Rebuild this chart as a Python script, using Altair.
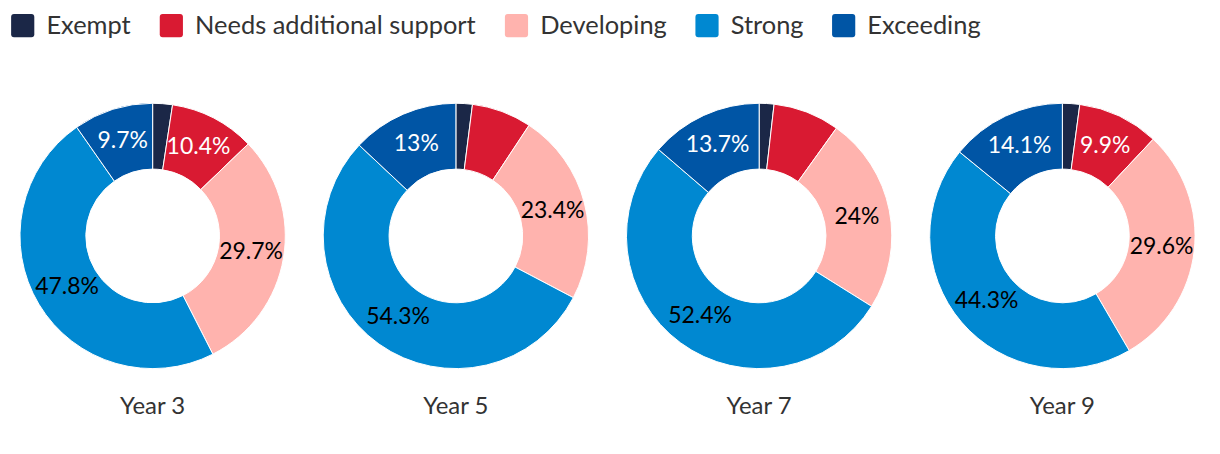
import altair as alt
import pandas as pd

years = ["Year 3", "Year 5", "Year 7", "Year 9"]
categories = ["Exempt", "Needs additional support", "Developing", "Strong", "Exceeding"]
colors = ["#1b2747", "#d91a32", "#ffb3ae", "#0088d1", "#0055a5"]
exempt = [2.4, 2.0, 1.8, 2.1]
needs = [10.4, 7.3, 8.1, 9.9]
developing = [29.7, 23.4, 24.0, 29.6]
strong = [47.8, 54.3, 52.4, 44.3]
exceeding = [9.7, 13.0, 13.7, 14.1]
label_min = 9  # slices under this percent carry no label
white_label_cats = ["Needs additional support", "Exceeding"]

series = [exempt, needs, developing, strong, exceeding]
rows = []
for yi, yr in enumerate(years):
    for ci, (cat, s) in enumerate(zip(categories, series)):
        v = s[yi]
        rows.append({"year": yr, "cat": cat, "order": ci, "value": v,
                     "label": f"{v:g}%" if v >= label_min else ""})
df = pd.DataFrame(rows)

FONT = "Lato"
rounded_square = ("M-0.75,-1 L0.75,-1 Q1,-1 1,-0.75 L1,0.75 Q1,1 0.75,1 "
                  "L-0.75,1 Q-1,1 -1,0.75 L-1,-0.75 Q-1,-1 -0.75,-1 Z")

base = alt.Chart(df).encode(
    theta=alt.Theta("value:Q", stack=True),
    order=alt.Order("order:Q"),
)

arcs = base.mark_arc(outerRadius=133, innerRadius=67, stroke="white", strokeWidth=1).encode(
    color=alt.Color(
        "cat:N",
        sort=categories,
        scale=alt.Scale(domain=categories, range=colors),
        legend=alt.Legend(title=None, orient="top", direction="horizontal"),
    )
)

test = " || ".join(f"datum.cat == '{c}'" for c in white_label_cats)
labels = base.mark_text(radius=100, font=FONT, fontSize=23).encode(
    text="label:N",
    detail="cat:N",
    color=alt.condition(test, alt.value("white"), alt.value("black")),
)

chart = alt.layer(arcs, labels).properties(width=290, height=290).facet(
    column=alt.Column(
        "year:N",
        sort=years,
        title=None,
        header=alt.Header(labelOrient="bottom", labelFontSize=24, labelFont=FONT,
                          labelColor="#333333", labelPadding=14),
    ),
    spacing=14,
).properties(
    padding={"left": 0, "top": 2, "right": 5, "bottom": 5}
).configure_view(stroke=None).configure_legend(
    symbolType=rounded_square,
    symbolSize=540,
    symbolStrokeWidth=0,
    labelFontSize=25.5,
    labelFont=FONT,
    labelColor="#333333",
    labelOffset=11,
    labelLimit=500,
    columnPadding=27,
    offset=50,
    padding=2,
)

chart.save("out.html", embed_options={"renderer": "svg", "actions": False})
